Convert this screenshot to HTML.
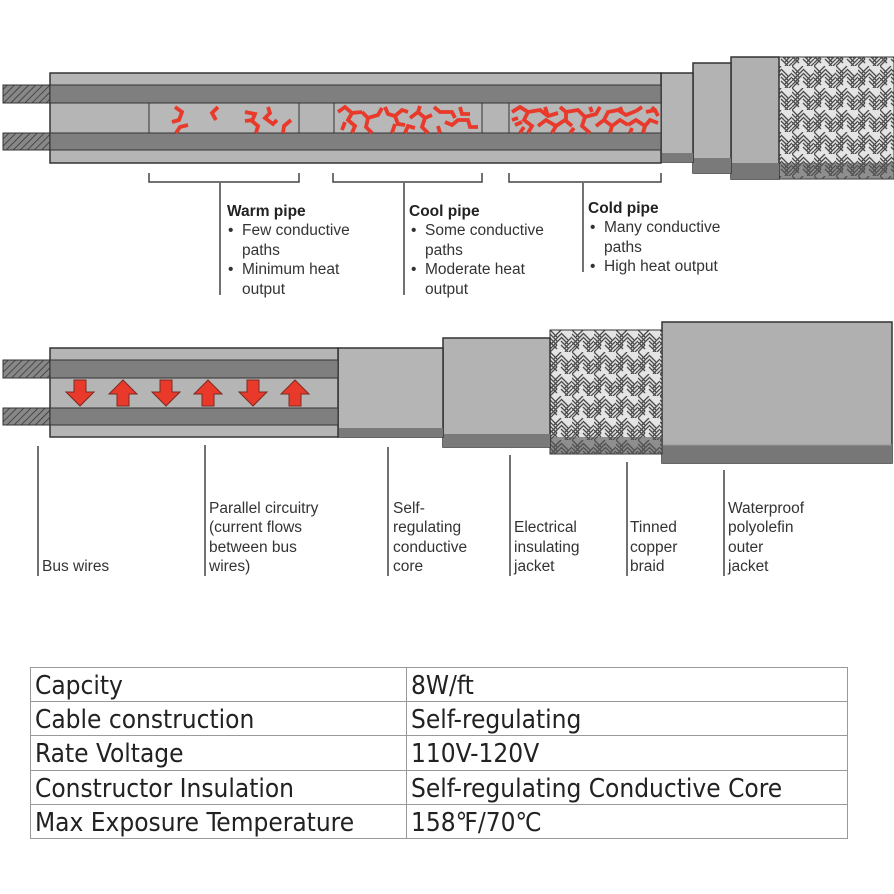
<!DOCTYPE html>
<html><head><meta charset="utf-8"><style>
html,body{margin:0;padding:0;background:#fff;}
svg{display:block;}
.t{font-family:"Liberation Sans",Arial,sans-serif;font-size:15.5px;fill:#333;}
.tb{font-family:"Liberation Sans",Arial,sans-serif;font-size:15.5px;font-weight:bold;fill:#222;}
.tbl{font-family:"DejaVu Sans Condensed","Liberation Sans",sans-serif;font-size:26px;fill:#222;}
</style></head><body>
<svg width="894" height="894" viewBox="0 0 894 894" xmlns="http://www.w3.org/2000/svg">
<defs>
<pattern id="hatch" width="5" height="5" patternUnits="userSpaceOnUse" patternTransform="rotate(45)">
<rect width="5" height="5" fill="#888"/><line x1="0" y1="0" x2="0" y2="5" stroke="#333" stroke-width="1.5"/></pattern>
<pattern id="braid" width="22" height="22" patternUnits="userSpaceOnUse">
<rect width="22" height="22" fill="#e4e4e4"/>
<g stroke="#4a4a4a" stroke-width="1.3" fill="none">
<path d="M0 4 L7 11 M0 8 L7 15 M0 12 L7 19 M0 0 L7 7"/>
<path d="M11 0 L4 7 M11 4 L4 11 M11 8 L4 15"/>
<path d="M11 11 L18 18 M11 15 L18 22 M11 7 L18 14 M11 3 L18 10"/>
<path d="M22 11 L15 18 M22 15 L15 22 M22 7 L15 14 M22 19 L19 22"/>
<path d="M0 15 L4 11 M0 19 L4 15 M0 22 L7 15"/>
</g></pattern>
</defs>

<!-- TOP CABLE -->
<rect x="3" y="85" width="48" height="18" fill="url(#hatch)" stroke="#333"/>
<rect x="3" y="133" width="48" height="17" fill="url(#hatch)" stroke="#333"/>
<rect x="779" y="57" width="115" height="122" fill="url(#braid)" stroke="#333"/>
<rect x="779" y="163" width="115" height="16" fill="#555" opacity="0.6"/>
<rect x="731" y="57" width="48" height="122" fill="#b0b0b0" stroke="#333" stroke-width="1.5"/>
<rect x="731" y="163" width="48" height="16" fill="#777"/>
<rect x="693" y="63" width="38" height="110" fill="#b3b3b3" stroke="#333" stroke-width="1.5"/>
<rect x="693" y="158" width="38" height="15" fill="#7a7a7a"/>
<rect x="661" y="73" width="32" height="89" fill="#b5b5b5" stroke="#333" stroke-width="1.5"/>
<rect x="661" y="153" width="32" height="9" fill="#7a7a7a"/>
<rect x="50" y="73" width="611" height="90" fill="#b5b5b5" stroke="#333" stroke-width="1.5"/>
<rect x="50" y="85" width="611" height="18" fill="#7f7f7f" stroke="#333" stroke-width="1"/>
<rect x="50" y="133" width="611" height="17" fill="#7f7f7f" stroke="#333" stroke-width="1"/>
<rect x="149" y="103" width="150" height="30" fill="#b8b8b8" stroke="#333" stroke-width="1"/>
<rect x="334" y="103" width="148" height="30" fill="#b8b8b8" stroke="#333" stroke-width="1"/>
<rect x="509" y="103" width="152" height="30" fill="#b8b8b8" stroke="#333" stroke-width="1"/>
<g fill="none" stroke="#e8392b" stroke-width="3.8" stroke-linejoin="miter">
<path d="M175 107 L182 112 L179 120 L172 122 M176 133 L180 127 L188 125"/>
<path d="M218 107 L212 113 L216 120"/>
<path d="M245 112 L255 114 L252 121 L258 126 L256 133 M253 120 L245 121"/>
<path d="M268 107 L270 113 L265 118 L273 124 L277 120 M283 133 L284 126 L291 120"/>
<path d="M338 112 L345 107 L352 113 L348 120 L355 126 L352 133 M342 130 L345 122 M352 113 L362 112"/>
<path d="M362 112 L368 118 L378 115 L382 108 M368 118 L366 127 L372 133"/>
<path d="M385 107 L388 114 L395 116 L398 124 L405 125 M395 116 L402 110 L408 112 M392 133 L395 124"/>
<path d="M410 118 L418 112 L425 118 L432 115 M418 112 L420 106 M425 118 L422 127 L428 133"/>
<path d="M434 107 L440 112 L452 112 L455 118 M445 122 L452 125 L458 120 L468 120 L470 127 L478 127"/>
<path d="M460 107 L462 114 L470 114 M440 133 L438 126 M405 133 L408 126 L415 128"/>
<path d="M512 112 L520 107 L528 112 L524 120 L532 126 L528 133 M515 125 L522 122 M528 112 L540 110 L548 116 L558 113"/>
<path d="M538 126 L546 120 L556 126 L565 120 L572 126 M548 116 L545 107 M556 126 L552 133"/>
<path d="M560 107 L566 112 L578 110 L585 117 L596 114 L600 107 M585 117 L582 126 L590 133 M566 112 L566 120"/>
<path d="M596 126 L604 120 L612 126 L620 120 L628 125 M604 120 L608 112 L618 110 L626 115 L636 111 M612 126 L610 133"/>
<path d="M628 125 L636 120 L645 126 L650 120 L658 123 M636 111 L642 107 M645 126 L643 133 M646 112 L655 110 L658 116"/>
<path d="M520 133 L524 127 M570 133 L574 128 M630 133 L632 128 M512 120 L518 118 M590 107 L592 112 M620 107 L622 112 M652 107 L656 112"/>
</g>
<!-- brackets -->
<g stroke="#444" stroke-width="1.5" fill="none">
<path d="M149 173 V182 H299 V173 M333 173 V182 H482 V173 M509 173 V182 H661 V173"/>
<path d="M220 183 V295 M404 183 V295 M583 183 V272"/>
</g>
<text class="tb" x="227" y="216">Warm pipe</text>
<text class="t" x="228" y="235">•</text><text class="t" x="242" y="235">Few conductive</text>
<text class="t" x="242" y="255">paths</text>
<text class="t" x="228" y="274">•</text><text class="t" x="242" y="274">Minimum heat</text>
<text class="t" x="242" y="294">output</text>
<text class="tb" x="409" y="216">Cool pipe</text>
<text class="t" x="411" y="235">•</text><text class="t" x="425" y="235">Some conductive</text>
<text class="t" x="425" y="255">paths</text>
<text class="t" x="411" y="274">•</text><text class="t" x="425" y="274">Moderate heat</text>
<text class="t" x="425" y="294">output</text>
<text class="tb" x="588" y="213">Cold pipe</text>
<text class="t" x="590" y="232">•</text><text class="t" x="604" y="232">Many conductive</text>
<text class="t" x="604" y="252">paths</text>
<text class="t" x="590" y="271">•</text><text class="t" x="604" y="271">High heat output</text>

<!-- BOTTOM CABLE -->
<rect x="662" y="322" width="230" height="141" fill="#b0b0b0" stroke="#333" stroke-width="1.5"/>
<rect x="662" y="445" width="230" height="18" fill="#777"/>
<line x1="662" y1="445" x2="892" y2="445" stroke="#999"/>
<rect x="550" y="330" width="112" height="124" fill="url(#braid)" stroke="#333"/>
<rect x="550" y="437" width="112" height="17" fill="#555" opacity="0.6"/>
<rect x="443" y="338" width="107" height="109" fill="#b3b3b3" stroke="#333" stroke-width="1.5"/>
<rect x="443" y="434" width="107" height="13" fill="#7a7a7a"/>
<rect x="338" y="348" width="105" height="89" fill="#b5b5b5" stroke="#333" stroke-width="1.5"/>
<rect x="338" y="428" width="105" height="9" fill="#7a7a7a"/>
<rect x="3" y="360" width="48" height="18" fill="url(#hatch)" stroke="#333"/>
<rect x="3" y="408" width="48" height="17" fill="url(#hatch)" stroke="#333"/>
<rect x="50" y="348" width="288" height="89" fill="#b5b5b5" stroke="#333" stroke-width="1.5"/>
<rect x="50" y="360" width="288" height="18" fill="#7f7f7f" stroke="#333" stroke-width="1"/>
<rect x="50" y="408" width="288" height="17" fill="#7f7f7f" stroke="#333" stroke-width="1"/>
<g fill="#e8392b" stroke="#7a2a22" stroke-width="1">
<path d="M74 380 H86 V392 H94 L80 406 L66 392 H74 Z"/>
<path d="M160 380 H172 V392 H180 L166 406 L152 392 H160 Z"/>
<path d="M247 380 H259 V392 H267 L253 406 L239 392 H247 Z"/>
<path d="M117 406 H129 V394 H137 L123 380 L109 394 H117 Z"/>
<path d="M202 406 H214 V394 H222 L208 380 L194 394 H202 Z"/>
<path d="M289 406 H301 V394 H309 L295 380 L281 394 H289 Z"/>
</g>
<g stroke="#444" stroke-width="1.5">
<path d="M38 446 V576 M205 445 V576 M388 447 V576 M510 455 V576 M627 462 V576 M724 470 V576"/>
</g>
<text class="t" x="42" y="571">Bus wires</text>
<text class="t" x="209" y="513">Parallel circuitry</text>
<text class="t" x="209" y="532">(current flows</text>
<text class="t" x="209" y="552">between bus</text>
<text class="t" x="209" y="571">wires)</text>
<text class="t" x="393" y="513">Self-</text>
<text class="t" x="393" y="532">regulating</text>
<text class="t" x="393" y="552">conductive</text>
<text class="t" x="393" y="571">core</text>
<text class="t" x="514" y="532">Electrical</text>
<text class="t" x="514" y="552">insulating</text>
<text class="t" x="514" y="571">jacket</text>
<text class="t" x="630" y="532">Tinned</text>
<text class="t" x="630" y="552">copper</text>
<text class="t" x="630" y="571">braid</text>
<text class="t" x="728" y="513">Waterproof</text>
<text class="t" x="728" y="532">polyolefin</text>
<text class="t" x="728" y="552">outer</text>
<text class="t" x="728" y="571">jacket</text>

<!-- TABLE -->
<g stroke="#999" stroke-width="1" fill="none">
<rect x="30.5" y="667.5" width="817" height="171"/>
<path d="M30 701.5 H848 M30 735.5 H848 M30 770.5 H848 M30 804.5 H848 M406.5 667 V839"/>
</g>
<text class="tbl" x="35" y="694">Capcity</text>
<text class="tbl" x="35" y="728">Cable construction</text>
<text class="tbl" x="35" y="762">Rate Voltage</text>
<text class="tbl" x="35" y="797">Constructor Insulation</text>
<text class="tbl" x="35" y="831">Max Exposure Temperature</text>
<text class="tbl" x="411" y="694">8W/ft</text>
<text class="tbl" x="411" y="728">Self-regulating</text>
<text class="tbl" x="411" y="762">110V-120V</text>
<text class="tbl" x="411" y="797">Self-regulating Conductive Core</text>
<text class="tbl" x="411" y="831">158℉/70℃</text>
</svg>
</body></html>
